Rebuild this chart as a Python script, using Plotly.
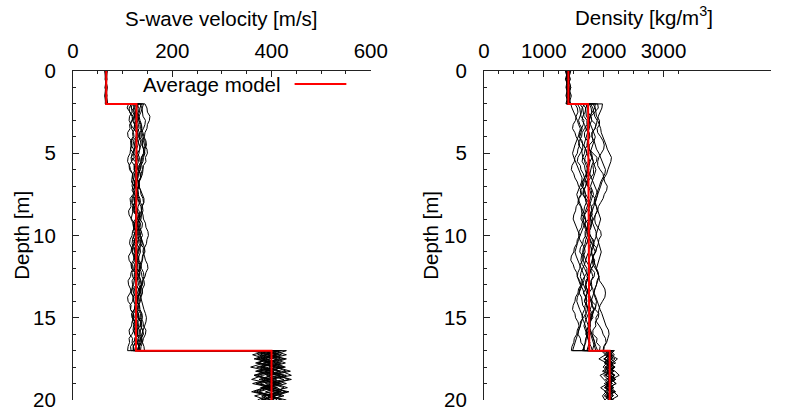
import plotly.graph_objects as go

# ---------------- data ----------------
depth_l1 = [0, 0.5, 1, 1.5, 2]
depth_l2 = [2, 2.25, 2.5, 2.75, 3, 3.25, 3.5, 3.75, 4, 4.25, 4.5, 4.75, 5, 5.25, 5.5, 5.75,
            6, 6.25, 6.5, 6.75, 7, 7.25, 7.5, 7.75, 8, 8.25, 8.5, 8.75, 9, 9.25, 9.5, 9.75,
            10, 10.25, 10.5, 10.75, 11, 11.25, 11.5, 11.75, 12, 12.25, 12.5, 12.75, 13, 13.25,
            13.5, 13.75, 14, 14.25, 14.5, 14.75, 15, 15.25, 15.5, 15.75, 16, 16.25, 16.5, 16.75, 17]
depth_l3 = [17, 17.25, 17.5, 17.75, 18, 18.25, 18.5, 18.75, 19, 19.25, 19.5, 19.75, 20]

vs_l1 = [
    [66, 68, 65, 67, 66], [68, 66, 69, 67, 70], [65, 67, 66, 64, 66], [67, 65, 68, 66, 67],
    [69, 67, 66, 68, 67], [66, 67, 68, 65, 67], [64, 66, 67, 66, 65], [67, 68, 66, 67, 69],
    [66, 65, 67, 68, 66], [68, 67, 65, 66, 68], [65, 66, 68, 67, 66], [67, 66, 65, 67, 68],
    [66, 68, 67, 65, 67], [68, 66, 67, 68, 66],
]
vs_l2 = [
    [120,117,124,125,118,116,122,128,127,121,123,124,119,118,125,131,130,125,126,128,121,119,124,130,128,127,133,135,129,124,125,126,122,120,127,133,131,126,128,129,124,119,120,125,126,132,130,126,127,128,123,118,119,124,122,121,126,127,121,116,117],
    [135,139,140,141,146,145,142,137,138,142,144,149,150,146,147,142,141,140,137,133,133,136,139,143,143,139,138,137,134,131,130,134,136,139,141,144,145,141,140,138,135,134,131,128,128,132,134,137,139,141,143,146,148,147,144,142,138,135,133,132,129],
    [112,109,116,121,120,114,115,110,111,118,117,116,122,123,118,113,114,120,119,118,124,125,121,115,116,117,112,113,118,124,123,121,127,126,122,118,117,112,113,118,119,126,124,119,120,119,115,110,111,117,116,122,121,120,125,123,119,113,114,111,110],
    [128,133,132,126,127,124,123,128,129,130,134,135,130,125,126,129,131,137,136,131,132,130,128,123,124,127,129,134,135,140,139,133,134,131,129,124,125,131,130,135,136,130,132,129,127,121,122,126,128,134,133,138,137,131,132,128,127,133,131,132,135],
    [145,149,150,155,154,150,149,145,144,140,139,142,143,138,137,133,132,135,136,132,131,128,127,131,133,137,138,141,142,146,147,151,152,149,148,144,143,140,139,135,134,130,129,134,135,139,140,137,136,132,131,136,137,141,142,147,146,142,140,137,136],
    [118,113,114,119,120,124,125,120,121,116,117,122,123,127,128,123,124,130,129,133,134,129,130,127,126,120,121,119,117,121,122,128,127,132,131,125,126,123,122,117,118,124,123,127,129,124,125,121,120,115,116,122,121,125,126,131,130,124,125,122,121],
    [130,127,126,123,122,125,127,131,132,136,137,134,133,130,129,126,125,121,120,124,126,130,131,135,136,140,141,138,137,133,132,129,128,124,123,120,119,122,124,128,129,135,134,137,138,134,133,128,128,125,124,129,130,136,135,130,131,127,126,121,122],
    [124,128,129,133,135,138,139,135,134,139,140,143,145,142,141,137,136,132,131,128,127,131,132,127,128,124,123,127,129,135,134,131,130,134,136,142,141,144,146,150,151,147,145,141,140,136,135,132,131,127,126,130,132,138,137,140,142,137,138,134,133],
    [115,118,119,114,113,117,118,122,123,118,119,116,115,111,110,114,116,120,121,125,126,121,122,119,118,122,123,127,128,125,124,120,119,115,114,118,120,124,125,120,121,117,116,111,112,116,117,123,122,126,127,122,123,119,118,113,114,120,119,122,124],
    [138,135,134,130,129,132,133,129,128,125,124,128,130,134,135,139,140,137,136,133,132,136,137,141,142,139,138,134,133,129,128,131,132,138,137,134,133,129,128,124,123,126,127,131,132,137,136,130,131,128,127,132,133,129,128,123,124,128,129,133,134],
    [126,122,121,124,125,129,130,134,135,132,131,128,127,131,132,129,128,124,123,120,119,123,124,121,120,124,125,129,130,136,135,138,140,136,135,131,130,127,126,130,131,128,127,123,122,119,118,121,123,129,128,132,133,137,139,136,135,131,130,127,126],
    [142,140,137,133,132,135,136,139,141,145,146,143,142,138,137,134,133,129,128,131,133,130,129,125,124,127,128,132,133,129,128,125,124,120,119,122,124,128,129,133,134,138,139,143,144,140,139,135,134,131,130,126,125,129,130,134,135,139,140,143,144],
    [120,124,125,127,130,125,126,130,131,126,127,125,122,117,118,124,123,127,128,123,124,130,129,124,125,121,120,127,126,129,131,137,136,138,140,135,136,133,132,127,128,134,133,136,138,133,134,131,129,125,124,119,120,126,125,128,130,136,135,132,131],
    [132,129,128,131,133,137,138,141,143,147,148,145,144,140,139,136,135,131,130,126,125,128,129,133,134,131,130,127,126,121,122,126,127,124,123,127,128,131,133,137,138,142,143,140,139,135,134,130,129,134,135,139,140,137,136,140,141,138,137,133,132],
]
vs_l3 = [
    [380,410,372,398,425,390,365,402,430,395,370,408,385],
    [415,388,430,402,376,420,440,398,370,410,428,392,405],
    [395,362,388,415,380,405,372,396,420,385,360,398,412],
    [402,430,395,368,410,438,400,375,415,390,420,380,395],
    [372,400,425,385,358,396,418,380,405,432,398,366,390],
    [420,392,365,405,428,388,410,440,402,378,415,395,422],
    [388,415,380,402,370,398,425,392,362,400,430,405,378],
    [405,378,412,390,418,372,396,385,410,388,365,402,418],
    [430,402,378,420,395,368,412,435,400,382,418,390,372],
    [360,392,418,384,408,375,430,398,370,412,388,420,400],
    [398,372,405,428,395,415,382,360,398,425,410,385,398],
    [412,385,370,400,382,418,395,425,388,402,375,395,430],
    [385,420,398,372,408,430,390,410,378,395,435,405,380],
    [395,410,388,375,420,402,365,390,418,380,405,425,392],
]

rho_l1 = [
    [1400,1440,1380,1420,1390], [1430,1370,1410,1460,1420], [1380,1420,1450,1400,1370],
    [1410,1390,1430,1400,1440], [1360,1400,1380,1420,1410], [1450,1410,1390,1430,1400],
    [1390,1420,1400,1370,1410], [1420,1400,1370,1410,1450], [1400,1360,1420,1440,1390],
    [1430,1410,1450,1420,1380], [1370,1400,1420,1390,1430], [1410,1440,1400,1380,1420],
    [1390,1380,1410,1430,1400], [1440,1420,1390,1400,1430],
]
rho_l2 = [
    [1650,1700,1700,1710,1760,1760,1720,1680,1680,1730,1740,1750,1800,1810,1770,1730,1720,1720,1680,1640,1630,1680,1690,1700,1750,1800,1810,1770,1780,1770,1730,1690,1690,1730,1740,1790,1800,1810,1850,1840,1800,1770,1750,1700,1700,1700,1660,1700,1710,1720,1770,1810,1820,1770,1780,1760,1730,1700,1690,1680,1640],
    [1820,1860,1870,1880,1930,1930,1890,1900,1950,1990,2010,2000,1960,1920,1900,1900,1940,1990,2000,2020,2060,2050,2010,1990,1950,1910,1900,1860,1850,1860,1900,1950,1960,1920,1910,1890,1860,1820,1810,1820,1860,1900,1920,1930,1980,2020,2030,2020,1980,1940,1920,1910,1870,1880,1930,1970,1990,2030,2040,2000,1990],
    [1520,1560,1570,1540,1530,1490,1480,1520,1540,1580,1600,1570,1560,1520,1510,1470,1460,1500,1520,1560,1580,1620,1630,1590,1580,1540,1530,1500,1490,1520,1540,1580,1600,1560,1550,1510,1500,1460,1450,1490,1510,1550,1560,1600,1620,1580,1570,1530,1520,1490,1480,1520,1530,1570,1590,1560,1550,1510,1500,1470,1460],
    [1740,1700,1690,1650,1640,1680,1700,1740,1760,1730,1720,1760,1780,1810,1830,1800,1790,1770,1740,1710,1700,1660,1650,1690,1710,1680,1670,1630,1620,1660,1680,1720,1740,1770,1790,1760,1750,1720,1700,1740,1760,1800,1820,1790,1780,1740,1730,1700,1680,1720,1740,1780,1790,1760,1750,1720,1700,1740,1750,1790,1810],
    [1900,1910,1850,1790,1800,1870,1860,1800,1810,1820,1760,1760,1820,1890,1880,1820,1830,1830,1780,1730,1740,1800,1790,1860,1850,1790,1800,1810,1750,1690,1700,1770,1760,1830,1820,1880,1870,1820,1830,1840,1790,1850,1840,1790,1800,1800,1750,1740,1800,1870,1860,1920,1910,1860,1870,1820,1820,1890,1880,1940,1930],
    [1600,1650,1660,1670,1720,1720,1680,1640,1630,1590,1580,1630,1640,1650,1700,1740,1750,1720,1710,1670,1660,1610,1620,1580,1570,1620,1630,1640,1690,1730,1740,1710,1700,1660,1650,1610,1600,1650,1660,1680,1720,1720,1680,1640,1630,1600,1590,1630,1640,1650,1700,1700,1660,1610,1610,1580,1570,1610,1620,1670,1680],
    [1780,1820,1830,1850,1890,1880,1850,1810,1800,1840,1860,1880,1920,1950,1970,2010,2030,2020,1980,1950,1930,1900,1880,1850,1840,1880,1890,1860,1840,1800,1790,1760,1750,1780,1800,1840,1860,1830,1810,1780,1770,1740,1720,1750,1780,1820,1830,1860,1880,1870,1840,1810,1790,1760,1750,1720,1710,1740,1760,1740,1720],
    [1560,1600,1610,1620,1670,1660,1630,1590,1590,1640,1650,1650,1610,1570,1560,1610,1620,1660,1680,1650,1640,1680,1700,1740,1760,1760,1720,1680,1670,1640,1630,1590,1580,1600,1640,1680,1690,1660,1650,1610,1600,1570,1560,1580,1610,1650,1670,1710,1720,1690,1680,1650,1640,1670,1690,1720,1740,1710,1700,1670,1660],
    [1700,1730,1740,1780,1800,1770,1760,1730,1710,1680,1670,1700,1720,1690,1680,1710,1740,1770,1790,1830,1850,1880,1900,1880,1860,1830,1810,1780,1770,1740,1720,1750,1780,1810,1840,1820,1800,1770,1750,1770,1790,1770,1750,1720,1700,1720,1740,1770,1790,1810,1830,1800,1780,1760,1740,1760,1780,1810,1830,1850,1870],
    [1860,1850,1810,1770,1760,1730,1720,1760,1770,1740,1730,1690,1680,1650,1640,1680,1690,1710,1750,1730,1700,1670,1660,1700,1710,1740,1770,1800,1820,1790,1780,1760,1730,1700,1690,1660,1650,1680,1700,1680,1650,1620,1610,1640,1660,1700,1720,1700,1680,1710,1730,1710,1690,1720,1740,1770,1800,1830,1850,1870,1900],
    [1680,1640,1630,1600,1580,1600,1640,1620,1600,1620,1660,1700,1720,1740,1770,1760,1730,1700,1680,1700,1740,1770,1790,1780,1750,1720,1700,1670,1650,1670,1700,1730,1760,1740,1710,1680,1660,1630,1620,1640,1680,1710,1740,1720,1700,1720,1750,1780,1810,1800,1770,1740,1720,1690,1670,1690,1720,1740,1770,1760,1730],
    [1980,1970,1940,1910,1900,1930,1950,1960,1990,2020,2040,2060,2090,2130,2120,2090,2070,2050,2010,1970,1950,1920,1900,1880,1860,1880,1900,1930,1950,1930,1910,1890,1870,1900,1920,1950,1960,1940,1920,1900,1880,1910,1920,1890,1880,1850,1840,1870,1890,1910,1940,1970,1990,2010,2040,2080,2090,2070,2050,2010,2000],
    [1450,1470,1500,1540,1560,1580,1610,1600,1570,1540,1520,1500,1480,1500,1530,1560,1590,1620,1640,1630,1600,1570,1550,1570,1600,1630,1650,1680,1700,1690,1660,1630,1610,1580,1560,1540,1520,1540,1570,1600,1620,1650,1680,1670,1640,1610,1590,1560,1550,1570,1600,1630,1650,1630,1610,1590,1570,1540,1520,1500,1480],
    [1760,1790,1800,1770,1750,1780,1810,1840,1860,1840,1820,1790,1770,1800,1820,1850,1870,1850,1830,1800,1780,1810,1830,1800,1780,1760,1740,1760,1790,1810,1840,1870,1880,1860,1830,1800,1790,1810,1830,1850,1870,1900,1920,1900,1880,1850,1830,1810,1790,1810,1840,1820,1800,1780,1760,1780,1810,1830,1850,1830,1810],
]
rho_l3 = [
    [2050,2120,2010,2160,2080,1980,2110,2200,2060,2140,2020,2090,2150],
    [2180,2110,2230,2150,2070,2190,2260,2130,2200,2090,2170,2240,2120],
    [1960,2030,1920,2050,1990,2080,1940,2010,2070,1950,2040,1980,2020],
    [2100,2040,2150,2070,2190,2110,2030,2140,2080,2170,2050,2120,2090],
    [2020,2090,2140,2060,2120,2010,2180,2070,2130,2040,2100,2160,2060],
    [2130,2060,2190,2100,2030,2170,2080,2150,2010,2120,2200,2050,2110],
    [2070,2140,2000,2110,2180,2090,2040,2130,2210,2080,2020,2150,2100],
    [2160,2080,2120,2200,2050,2130,2090,2180,2060,2140,2110,2030,2170],
    [1990,2060,2130,2040,2110,2170,2000,2080,2150,2030,2120,2070,2140],
    [2110,2180,2060,2140,2020,2100,2190,2070,2130,2050,2160,2090,2020],
    [2040,2120,2070,2010,2150,2090,2180,2030,2110,2070,2190,2060,2130],
    [2140,2070,2010,2100,2170,2050,2120,2200,2080,2030,2110,2160,2080],
    [2080,2020,2130,2060,2190,2100,2040,2160,2090,2010,2140,2070,2120],
    [2050,2150,2090,2020,2130,2070,2180,2110,2040,2160,2080,2010,2100],
]

avg_depth = [0, 2, 2, 17, 17, 20]
avg_vs = [67, 67, 128, 127, 400, 400]
avg_rho = [1410, 1410, 1740, 1760, 2100, 2100]

vs_ticks = [0, 200, 400, 600]
rho_ticks = [0, 1000, 2000, 3000]
rho_minor_ticks = [250, 500, 750, 1250, 1500, 1750, 2250, 2500, 2750, 3250]
depth_ticks = [0, 5, 10, 15, 20]

# ---------------- figure ----------------
FONT = "Liberation Sans, Arial, sans-serif"
FS = 20.5
W, H = 788, 413
ML, MR, MT, MB = 73, 0, 71, 13
PW, PH = W - ML - MR, H - MT - MB


def px_x(p):
    return (p - ML) / PW


def px_y(p):
    return 1 - (p - MT) / PH


def profile(l1, l2, l3):
    xs, ys = [], []
    for dl, vl in ((depth_l1, l1), (depth_l2, l2), (depth_l3, l3)):
        for d, v in zip(dl, vl):
            ys.append(d)
            xs.append(v)
    return xs, ys


fig = go.Figure()
for a, b, c in zip(vs_l1, vs_l2, vs_l3):
    xs, ys = profile(a, b, c)
    fig.add_trace(go.Scatter(x=xs, y=ys, mode="lines", line=dict(color="black", width=1),
                             showlegend=False, hoverinfo="skip", xaxis="x", yaxis="y"))
for a, b, c in zip(rho_l1, rho_l2, rho_l3):
    xs, ys = profile(a, b, c)
    fig.add_trace(go.Scatter(x=xs, y=ys, mode="lines", line=dict(color="black", width=1),
                             showlegend=False, hoverinfo="skip", xaxis="x2", yaxis="y2"))
fig.add_trace(go.Scatter(x=avg_vs, y=avg_depth, mode="lines", name="Average model",
                         line=dict(color="#ff0000", width=2), showlegend=False,
                         xaxis="x", yaxis="y"))
fig.add_trace(go.Scatter(x=avg_rho, y=avg_depth, mode="lines", name="Average model",
                         line=dict(color="#ff0000", width=2), showlegend=False,
                         xaxis="x2", yaxis="y2"))

axis_common = dict(showline=True, linecolor="#222222", linewidth=1, ticks="inside",
                   tickcolor="#222222", ticklen=6, showgrid=False, zeroline=False,
                   tickfont=dict(family=FONT, size=FS, color="black"))
minor_common = dict(ticks="inside", ticklen=3, tickcolor="#222222", showgrid=False)

fig.update_layout(
    width=W, height=H,
    margin=dict(l=ML, r=MR, t=MT, b=MB),
    paper_bgcolor="white", plot_bgcolor="white",
    font=dict(family=FONT, size=FS, color="black"),
    showlegend=False,
    xaxis=dict(domain=[0, px_x(378)], range=[0, 600], side="top", anchor="y",
               tickvals=vs_ticks, ticklabelstandoff=4,
               minor=dict(dtick=50, **minor_common), **axis_common),
    yaxis=dict(domain=[0, 1], range=[20, 0], anchor="x", tickvals=depth_ticks,
               ticklabelstandoff=12, minor=dict(dtick=1, **minor_common), **axis_common),
    xaxis2=dict(domain=[px_x(494), 1], range=[0, (788 - 494) / 0.0613], side="top",
                anchor="y2", tickvals=rho_ticks, ticklabelstandoff=4,
                minor=dict(tickvals=rho_minor_ticks, **minor_common), **axis_common),
    yaxis2=dict(domain=[0, 1], range=[20, 0], anchor="x2", tickvals=depth_ticks,
                ticklabelstandoff=12, minor=dict(dtick=1, **minor_common), **axis_common),
)

ann = [
    dict(text="S-wave velocity [m/s]", x=px_x(225.5), y=px_y(18)),
    dict(text="Density [kg/m<sup>3</sup>]", x=px_x(658), y=px_y(16)),
    dict(text="Depth [m]", x=px_x(20), y=0.5, textangle=-90),
    dict(text="Depth [m]", x=px_x(439), y=0.5, textangle=-90),
]
for a in ann:
    fig.add_annotation(xref="paper", yref="paper", showarrow=False,
                       xanchor="center", yanchor="middle",
                       font=dict(family=FONT, size=FS, color="black"), **a)

# legend (gnuplot style: label then line sample)
fig.add_annotation(xref="paper", yref="paper", x=px_x(288), y=px_y(84), text="Average model",
                   showarrow=False, xanchor="right", yanchor="middle",
                   font=dict(family=FONT, size=FS, color="black"))
fig.add_shape(type="line", xref="paper", yref="paper", x0=px_x(300), x1=px_x(353),
              y0=px_y(84), y1=px_y(84), line=dict(color="#ff0000", width=2))

fig.write_html("out.html")
